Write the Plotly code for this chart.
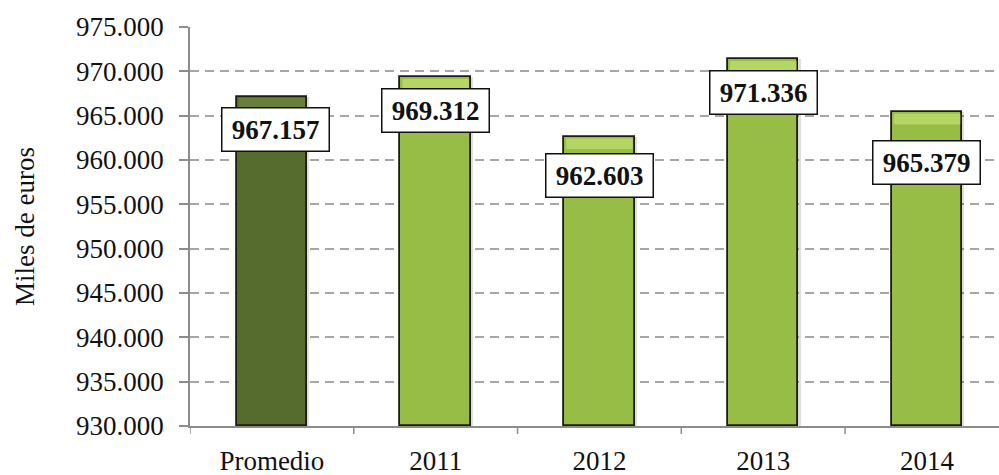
import plotly.graph_objects as go

# Annual spending, thousands of euros
categories = ["Promedio", "2011", "2012", "2013", "2014"]
values = [967157, 969312, 962603, 971336, 965379]
value_labels = ["967.157", "969.312", "962.603", "971.336", "965.379"]
tick_values = [930000, 935000, 940000, 945000, 950000, 955000, 960000, 965000, 970000, 975000]
tick_labels = ["930.000", "935.000", "940.000", "945.000", "950.000",
               "955.000", "960.000", "965.000", "970.000", "975.000"]

# styling
bar_colors = ["#566b2e", "#97bd47", "#97bd47", "#97bd47", "#97bd47"]
bevel_colors = ["#66803a", "#b3d665", "#b3d665", "#b3d665", "#b3d665"]
label_yshift = [-33, -33, -39, -33, -50]
label_xshift = [4, 0, 0, 0, 0]
BAR_W = 0.43
FONT = "Liberation Serif"

x_idx = list(range(len(categories)))

fig = go.Figure()

# soft drop shadow to the right of each bar
fig.add_trace(go.Bar(
    x=x_idx, y=[v - 930000 for v in values], base=930000,
    width=BAR_W, offset=-BAR_W / 2 + 0.014,
    marker=dict(color="rgba(0,0,0,0.13)", line=dict(width=0)),
    hoverinfo="skip", showlegend=False,
))

fig.add_trace(go.Bar(
    x=x_idx, y=[v - 930000 for v in values], base=930000,
    width=BAR_W, offset=-BAR_W / 2,
    marker=dict(color=bar_colors, line=dict(color="#1c1c14", width=1.8)),
    showlegend=False,
))

# light bevel on top of each bar
for i, v in enumerate(values):
    fig.add_shape(
        type="rect", xref="x", yref="y",
        x0=i - BAR_W / 2 + 0.012, x1=i + BAR_W / 2 - 0.012,
        ysizemode="pixel", yanchor=v, y0=-12, y1=-1.5,
        fillcolor=bevel_colors[i], line=dict(width=0), layer="above",
    )

# value labels in white boxes
for i, (v, t) in enumerate(zip(values, value_labels)):
    fig.add_annotation(
        x=i, y=v, xref="x", yref="y", text=f"<b>{t}</b>", showarrow=False,
        yshift=label_yshift[i], xshift=label_xshift[i], yanchor="middle",
        font=dict(family=FONT, size=27, color="#111111"),
        bgcolor="white", bordercolor="#111111", borderwidth=1.5,
        width=104, height=40, borderpad=1,
    )

fig.update_layout(
    width=999, height=475,
    margin=dict(l=190, r=0, t=27, b=49),
    paper_bgcolor="white", plot_bgcolor="white",
    bargap=0, barmode="overlay",
    font=dict(family=FONT, color="#111111"),
)

fig.update_xaxes(
    type="linear", range=[-0.5, 4.44], automargin=False,
    tickmode="array", tickvals=x_idx, ticktext=categories, ticks="",
    ticklabelstandoff=10,
    tickfont=dict(family=FONT, size=27, color="#111111"),
    showgrid=False, zeroline=False,
    showline=True, linecolor="#8c8c8c", linewidth=1.5,
)

# category boundary ticks on the x axis
for b in [-0.5, 0.5, 1.5, 2.5, 3.5]:
    fig.add_shape(type="line", xref="x", yref="paper", x0=b, x1=b,
                  ysizemode="pixel", yanchor=0, y0=0, y1=-8,
                  line=dict(color="#8c8c8c", width=1.5))

fig.update_yaxes(
    range=[930000, 975000], automargin=False,
    tickmode="array", tickvals=tick_values, ticktext=tick_labels,
    ticks="outside", ticklen=9, tickcolor="#8c8c8c", tickwidth=1.5,
    ticklabelstandoff=10,
    tickfont=dict(family=FONT, size=27, color="#111111"),
    showgrid=True, gridcolor="#a6a6a6", gridwidth=1.5, griddash="9px,6px",
    zeroline=False, showline=True, linecolor="#8c8c8c", linewidth=1.5,
    title=dict(text="Miles de euros", font=dict(family=FONT, size=27, color="#111111"),
               standoff=34),
)

fig.write_html("out.html")
